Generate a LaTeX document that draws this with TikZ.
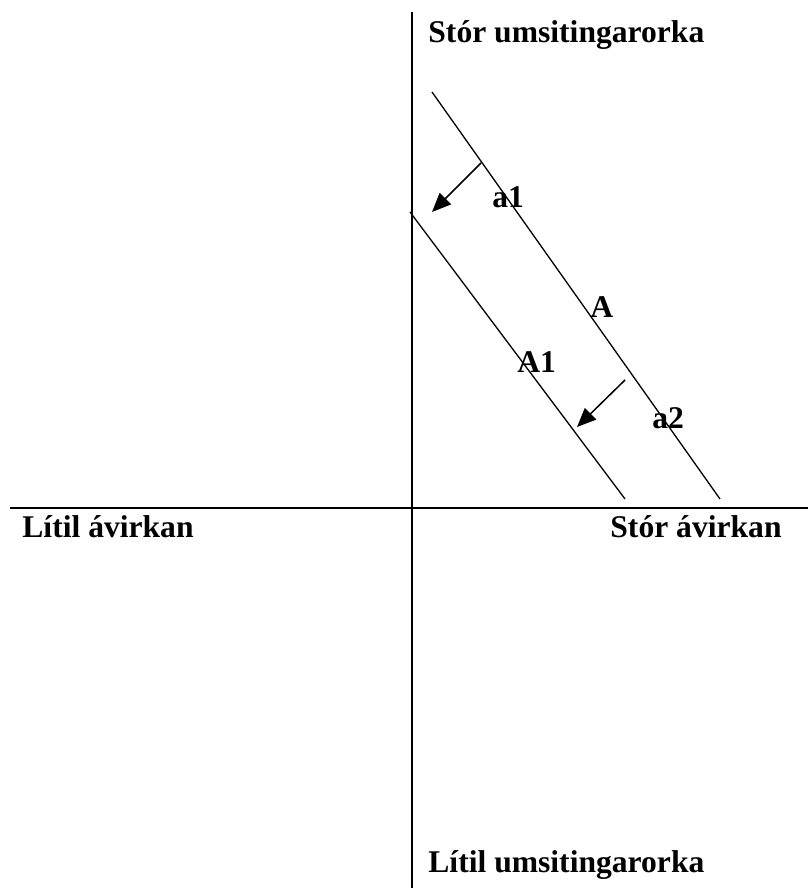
\documentclass[tikz,border=0pt]{standalone}
\usepackage{fontspec}
\setmainfont{Liberation Serif}
\usetikzlibrary{arrows.meta}

\begin{document}
\begin{tikzpicture}[x=0.5pt,y=-0.5pt,
    axis/.style={draw=black, line width=1pt},
    curve/.style={draw=black, line width=0.65pt},
    shift arrow/.style={draw=black, line width=0.75pt, -{Triangle[length=9.5pt,width=8pt]}},
    lab/.style={anchor=base west, inner sep=0pt, font=\fontsize{15.8}{19}\selectfont\bfseries}]
  \useasboundingbox (0,0) rectangle (808,888);
  % axes
  \coordinate (ytop) at (412,12);
  \coordinate (ybot) at (412,888);
  \coordinate (xleft) at (10,508);
  \coordinate (xright) at (808,508);
  \draw[axis] (ytop) -- (ybot);
  \draw[axis] (xleft) -- (xright);
  % curves
  \coordinate (Atop) at (432,92);
  \coordinate (Abot) at (720,499);
  \coordinate (A1top) at (410,212);
  \coordinate (A1bot) at (625,499);
  \draw[curve] (Atop) -- (Abot);
  \draw[curve] (A1top) -- (A1bot);
  % shifts
  \coordinate (a1from) at (481,163);
  \coordinate (a1to) at (432,212);
  \coordinate (a2from) at (625,380);
  \coordinate (a2to) at (577,427);
  \draw[shift arrow] (a1from) -- (a1to);
  \draw[shift arrow] (a2from) -- (a2to);
  % labels
  \node[lab] (ymax) at (428,43) {Stór umsitingarorka};
  \node[lab] (ymin) at (428,872) {Lítil umsitingarorka};
  \node[lab] (xmin) at (22,537) {Lítil ávirkan};
  \node[lab] (xmax) at (610,537) {Stór ávirkan};
  \node[lab] (la1) at (492,207) {a1};
  \node[lab] (lA) at (590,317) {A};
  \node[lab] (lA1) at (517,372) {A1};
  \node[lab] (la2) at (652,428) {a2};
\end{tikzpicture}
\end{document}
